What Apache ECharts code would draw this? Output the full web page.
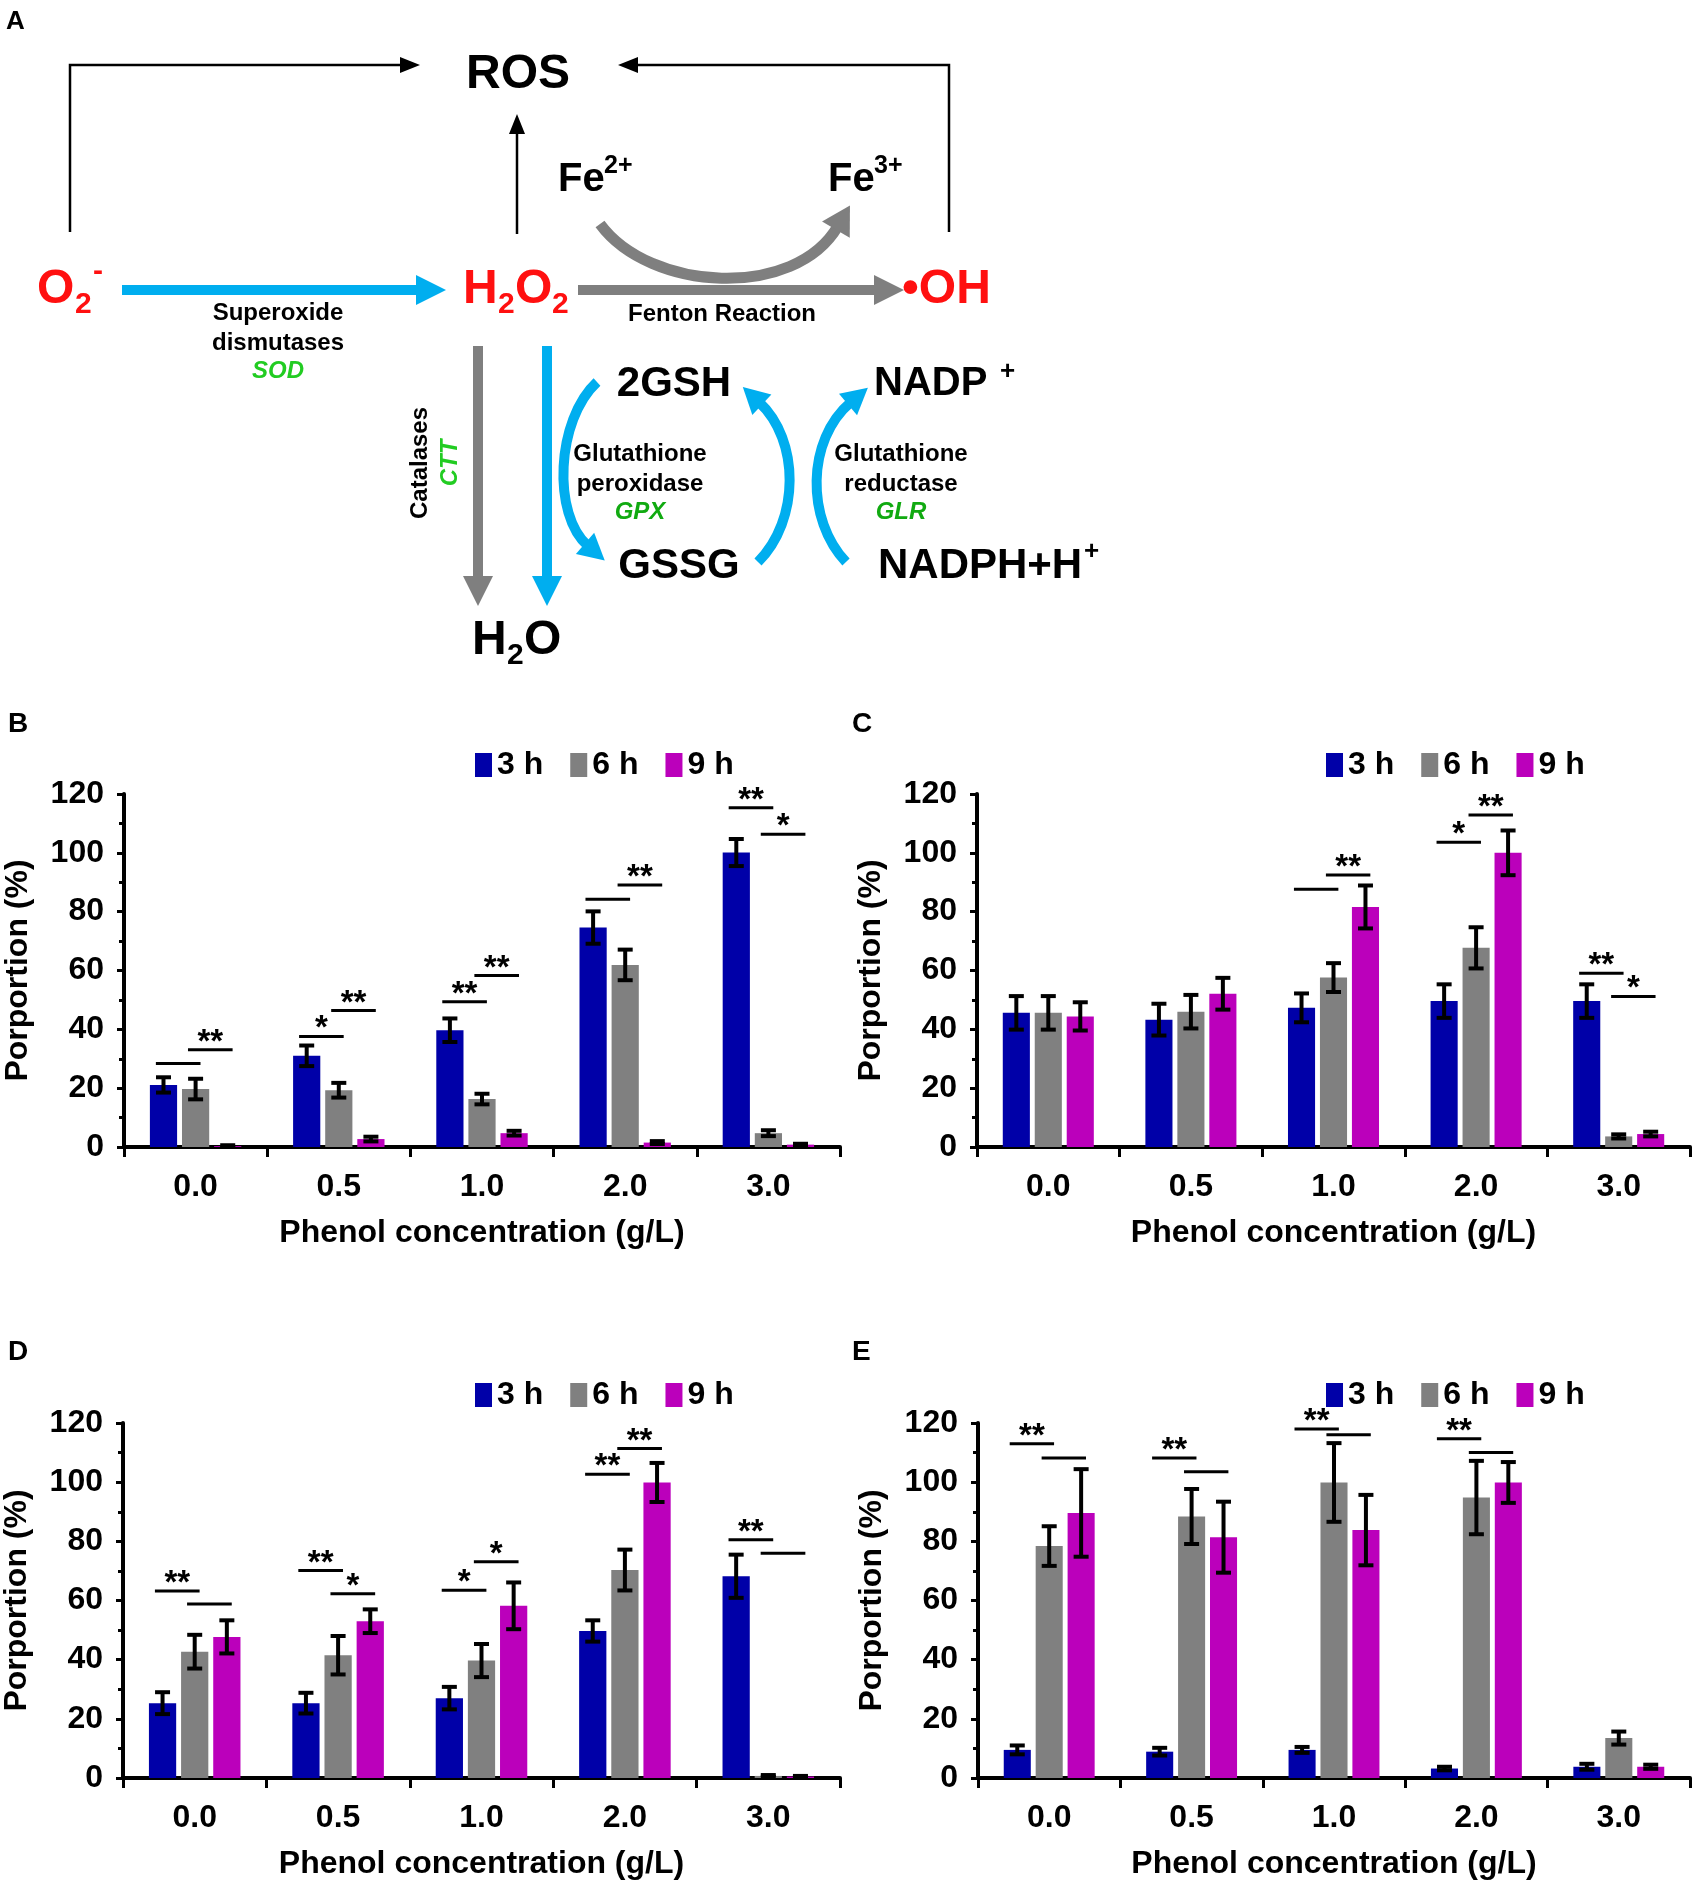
<!DOCTYPE html>
<html>
<head>
<meta charset="utf-8">
<script src="https://cdn.jsdelivr.net/npm/echarts@6/dist/echarts.min.js"></script>
<style>
html,body{margin:0;padding:0;background:#fff;}
#chart{width:1700px;height:1883px;}
</style>
</head>
<body>
<div id="chart"></div>
<script>
// ---------- DATA ----------
const categories = ['0.0', '0.5', '1.0', '2.0', '3.0'];
const seriesNames = ['3 h', '6 h', '9 h'];
const yMin = 0, yMax = 120, yInterval = 20;

// Panel B
const b3h = [21.1, 31.0, 39.7, 74.6, 100.1];
const b6h = [19.7, 19.3, 16.3, 61.9, 4.7];
const b9h = [0.3, 2.7, 4.7, 1.5, 0.8];
const b3hErr = [2.6, 3.5, 4.0, 5.5, 4.6];
const b6hErr = [3.5, 2.5, 1.8, 5.2, 1.0];
const b9hErr = [0.3, 0.8, 0.8, 0.5, 0.3];
// [category, fromSeries, toSeries, y, stars]
const bSig = [[0,0,1,28.4,''],[0,1,2,33.1,'**'],[1,0,1,37.6,'*'],[1,1,2,46.4,'**'],[2,0,1,49.4,'**'],[2,1,2,58.3,'**'],[3,0,1,84.2,''],[3,1,2,89.1,'**'],[4,0,1,115.3,'**'],[4,1,2,106.3,'*']];

// Panel C
const c3h = [45.6, 43.3, 47.3, 49.6, 49.6];
const c6h = [45.6, 46.0, 57.6, 67.7, 3.6];
const c9h = [44.4, 52.1, 81.6, 100.0, 4.4];
const c3hErr = [5.7, 5.4, 4.9, 5.7, 5.7];
const c6hErr = [5.7, 5.7, 4.9, 7.0, 0.7];
const c9hErr = [4.8, 5.4, 7.3, 7.6, 0.8];
const cSig = [[2,0,1,87.6,''],[2,1,2,92.5,'**'],[3,0,1,103.6,'*'],[3,1,2,112.9,'**'],[4,0,1,59.1,'**'],[4,1,2,51.2,'*']];

// Panel D
const d3h = [25.3, 25.3, 27.0, 49.7, 68.2];
const d6h = [42.7, 41.5, 39.7, 70.3, 0.7];
const d9h = [47.7, 53.0, 58.2, 99.9, 0.5];
const d3hErr = [3.7, 3.5, 3.8, 3.6, 7.3];
const d6hErr = [5.7, 6.5, 5.6, 6.9, 0.3];
const d9hErr = [5.6, 4.0, 7.9, 6.6, 0.2];
const dSig = [[0,0,1,63.2,'**'],[0,1,2,58.8,''],[1,0,1,70.1,'**'],[1,1,2,62.3,'*'],[2,0,1,63.5,'*'],[2,1,2,73.1,'*'],[3,0,1,102.7,'**'],[3,1,2,111.4,'**'],[4,0,1,80.5,'**'],[4,1,2,76.0,'']];

// Panel E
const e3h = [9.5, 8.9, 9.5, 3.2, 3.8];
const e6h = [78.4, 88.4, 99.9, 94.8, 13.5];
const e9h = [89.6, 81.4, 83.8, 99.9, 3.8];
const e3hErr = [1.5, 1.3, 1.0, 0.6, 1.0];
const e6hErr = [6.7, 9.3, 13.3, 12.4, 2.2];
const e9hErr = [14.8, 12.0, 11.9, 6.9, 0.7];
const eSig = [[0,0,1,113.0,'**'],[0,1,2,108.2,''],[1,0,1,108.2,'**'],[1,1,2,103.5,''],[2,0,1,118.0,'**'],[2,1,2,116.0,''],[3,0,1,114.7,'**'],[3,1,2,110.0,'']];

// ---------- STYLE ----------
const FONT = '"Liberation Sans", Arial, Helvetica, sans-serif';
const COLORS = ['#0000A8', '#808080', '#BB00BB'];
const BW = 0.19, GAP = 0.18;
const RED = '#FF1010', BLUE = '#00AEEF', GRAY = '#7F7F7F', GREEN = '#22CC22';

const panels = [
  {key:'B', vals:[b3h,b6h,b9h], errs:[b3hErr,b6hErr,b9hErr], sig:bSig, grid:{left:124, top:794, width:716, height:353}, legend:{left:475, top:749}, label:[8,724]},
  {key:'C', vals:[c3h,c6h,c9h], errs:[c3hErr,c6hErr,c9hErr], sig:cSig, grid:{left:977, top:794, width:713, height:353}, legend:{left:1326, top:749}, label:[852,724]},
  {key:'D', vals:[d3h,d6h,d9h], errs:[d3hErr,d6hErr,d9hErr], sig:dSig, grid:{left:122, top:1423, width:718, height:355}, legend:{left:475, top:1379}, label:[8,1352]},
  {key:'E', vals:[e3h,e6h,e9h], errs:[e3hErr,e6hErr,e9hErr], sig:eSig, grid:{left:978, top:1423, width:712, height:355}, legend:{left:1326, top:1379}, label:[852,1352]}
];

function barCenter(api, cat, s, v) {
  const band = api.size([1, 0])[0];
  const bw = band * BW, gap = bw * GAP;
  const c = api.coord([cat, v]);
  return {x: c[0] + (s - 1) * (bw + gap), bw: bw};
}

const grid = [], xAxis = [], yAxis = [], legend = [], series = [], graphic = [];

panels.forEach(function (p, gi) {
  grid.push(p.grid);
  xAxis.push({
    type: 'category', gridIndex: gi, data: categories,
    axisLine: {lineStyle: {color: '#000', width: 4}},
    axisTick: {show: true, length: 10, lineStyle: {color: '#000', width: 3}},
    axisLabel: {fontFamily: FONT, fontSize: 32, fontWeight: 'bold', color: '#000', margin: 24},
    name: 'Phenol concentration (g/L)', nameLocation: 'middle', nameGap: 70,
    nameTextStyle: {fontFamily: FONT, fontSize: 32, fontWeight: 'bold', color: '#000'}
  });
  yAxis.push({
    type: 'value', gridIndex: gi, min: yMin, max: yMax, interval: yInterval,
    axisLine: {show: true, lineStyle: {color: '#000', width: 4}},
    axisTick: {show: true, length: 7, lineStyle: {color: '#000', width: 3}},
    minorTick: {show: true, splitNumber: 2, length: 5, lineStyle: {color: '#000', width: 3}},
    splitLine: {show: false},
    axisLabel: {fontFamily: FONT, fontSize: 32, fontWeight: 'bold', color: '#000', margin: 20},
    name: 'Porportion (%)', nameLocation: 'middle', nameGap: 90,
    nameTextStyle: {fontFamily: FONT, fontSize: 32, fontWeight: 'bold', color: '#000'}
  });
  legend.push({
    left: p.legend.left, top: p.legend.top, data: seriesNames, icon: 'rect',
    itemWidth: 17, itemHeight: 24, itemGap: 27, padding: 0, selectedMode: false,
    textStyle: {fontFamily: FONT, fontSize: 32, fontWeight: 'bold', color: '#000'}
  });
  p.vals.forEach(function (arr, si) {
    series.push({
      type: 'bar', name: seriesNames[si], xAxisIndex: gi, yAxisIndex: gi,
      data: arr, barWidth: (BW * 100) + '%', barGap: (GAP * 100) + '%',
      itemStyle: {color: COLORS[si]}, silent: true
    });
  });
  // error bars
  const errData = [];
  p.vals.forEach(function (arr, si) {
    arr.forEach(function (v, ci) { errData.push([ci, si, v, p.errs[si][ci]]); });
  });
  series.push({
    type: 'custom', xAxisIndex: gi, yAxisIndex: gi, z: 5, silent: true,
    data: errData, encode: {x: 0, y: 2},
    renderItem: function (params, api) {
      const cat = api.value(0), s = api.value(1), v = api.value(2), e = api.value(3);
      const bc = barCenter(api, cat, s, v);
      const top = api.coord([cat, v + e])[1];
      const bot = api.coord([cat, Math.max(0, v - e)])[1];
      const hw = 7.5;
      const st = {stroke: '#000', lineWidth: 4};
      return {type: 'group', children: [
        {type: 'line', shape: {x1: bc.x, y1: top, x2: bc.x, y2: bot}, style: st},
        {type: 'line', shape: {x1: bc.x - hw, y1: top, x2: bc.x + hw, y2: top}, style: st},
        {type: 'line', shape: {x1: bc.x - hw, y1: bot, x2: bc.x + hw, y2: bot}, style: st}
      ]};
    }
  });
  // significance brackets
  const sig = p.sig;
  series.push({
    type: 'custom', xAxisIndex: gi, yAxisIndex: gi, z: 6, silent: true,
    data: sig.map(function (d) { return [d[0], d[3]]; }), encode: {x: 0, y: 1},
    renderItem: function (params, api) {
      const d = sig[params.dataIndex];
      const a = barCenter(api, d[0], d[1], d[3]);
      const b = barCenter(api, d[0], d[2], d[3]);
      const y = api.coord([d[0], d[3]])[1];
      const x1 = a.x - 0.28 * a.bw, x2 = b.x + 0.18 * b.bw;
      const children = [{type: 'line', shape: {x1: x1, y1: y, x2: x2, y2: y}, style: {stroke: '#000', lineWidth: 3}}];
      if (d[4]) {
        children.push({type: 'text', x: (x1 + x2) / 2, y: y - 7,
          style: {text: d[4], fontFamily: FONT, fontSize: 33, fontWeight: 'bold', fill: '#000', align: 'center', verticalAlign: 'middle'}});
      }
      return {type: 'group', children: children};
    }
  });
  graphic.push({type: 'text', x: p.label[0], y: p.label[1],
    style: {text: p.key, fontFamily: FONT, fontSize: 28, fontWeight: 'bold', fill: '#000', align: 'left', verticalAlign: 'middle'}});
});

// ---------- PANEL A (schematic) ----------
function txt(t, x, y, size, color, opts) {
  opts = opts || {};
  return {type: 'text', x: x, y: y, rotation: opts.rot || 0,
    style: {text: t, fontFamily: FONT, fontSize: size, fontWeight: 'bold', fontStyle: opts.italic ? 'italic' : 'normal',
      fill: color, align: opts.align || 'left', verticalAlign: 'middle'}};
}
function head(tx, ty, dx, dy, len, hw, color) {
  const n = Math.sqrt(dx * dx + dy * dy); dx /= n; dy /= n;
  const bx = tx - len * dx, by = ty - len * dy;
  return {type: 'polygon', shape: {points: [[tx, ty], [bx - hw * dy, by + hw * dx], [bx + hw * dy, by - hw * dx]]}, style: {fill: color}};
}
function seg(x1, y1, x2, y2, color, w) {
  return {type: 'line', shape: {x1: x1, y1: y1, x2: x2, y2: y2}, style: {stroke: color, lineWidth: w}};
}
function curve(x1, y1, c1x, c1y, c2x, c2y, x2, y2, color, w, hl, hw) {
  const dx = x2 - c2x, dy = y2 - c2y, n = Math.sqrt(dx * dx + dy * dy);
  return [
    {type: 'bezierCurve', shape: {x1: x1, y1: y1, cpx1: c1x, cpy1: c1y, cpx2: c2x, cpy2: c2y, x2: x2, y2: y2}, style: {stroke: color, lineWidth: w, fill: null}},
    head(x2 + hl * 0.85 * dx / n, y2 + hl * 0.85 * dy / n, dx, dy, hl, hw, color)
  ];
}

const A = [];
A.push(txt('A', 6, 22, 26, '#000'));
// black connectors to ROS
A.push({type: 'polyline', shape: {points: [[70, 232], [70, 65], [402, 65]]}, style: {stroke: '#000', lineWidth: 2.5, fill: null}});
A.push(head(420, 65, 1, 0, 20, 8, '#000'));
A.push({type: 'polyline', shape: {points: [[949, 232], [949, 65], [636, 65]]}, style: {stroke: '#000', lineWidth: 2.5, fill: null}});
A.push(head(618, 65, -1, 0, 20, 8, '#000'));
A.push(seg(517, 234, 517, 132, '#000', 2.5));
A.push(head(517, 114, 0, -1, 20, 8, '#000'));
A.push(txt('ROS', 518, 75, 48, '#000', {align: 'center'}));
// O2-
A.push(txt('O', 37, 290, 48, RED));
A.push(txt('2', 75, 305, 30, RED));
A.push(txt('-', 93, 272, 30, RED));
// H2O2
A.push(txt('H', 463, 290, 48, RED));
A.push(txt('2', 498, 305, 30, RED));
A.push(txt('O', 515, 290, 48, RED));
A.push(txt('2', 552, 305, 30, RED));
// •OH
A.push(txt('\u2022OH', 902, 290, 48, RED));
// blue arrow O2- -> H2O2
A.push(seg(122, 290, 420, 290, BLUE, 10));
A.push(head(446, 290, 1, 0, 30, 15, BLUE));
A.push(txt('Superoxide', 278, 313, 24, '#000', {align: 'center'}));
A.push(txt('dismutases', 278, 343, 24, '#000', {align: 'center'}));
A.push(txt('SOD', 278, 371, 24, GREEN, {align: 'center', italic: true}));
// gray arrow H2O2 -> OH
A.push(seg(578, 290, 878, 290, GRAY, 10));
A.push(head(904, 290, 1, 0, 30, 15, GRAY));
A.push(txt('Fenton Reaction', 722, 314, 24, '#000', {align: 'center'}));
// Fe
A.push(txt('Fe', 558, 180, 40, '#000'));
A.push(txt('2+', 604, 166, 25, '#000'));
A.push(txt('Fe', 828, 180, 40, '#000'));
A.push(txt('3+', 874, 166, 25, '#000'));
curve(600, 224, 650, 292, 795, 300, 838, 226, GRAY, 11, 28, 16).forEach(function (e) { A.push(e); });
// vertical arrows to H2O
A.push(seg(478, 346, 478, 580, GRAY, 10));
A.push(head(478, 606, 0, 1, 30, 15, GRAY));
A.push(seg(547, 346, 547, 580, BLUE, 10));
A.push(head(547, 606, 0, 1, 30, 15, BLUE));
A.push(txt('Catalases', 420, 463, 24, '#000', {align: 'center', rot: Math.PI / 2}));
A.push(txt('CTT', 450, 463, 24, GREEN, {align: 'center', rot: Math.PI / 2, italic: true}));
// H2O
A.push(txt('H', 472, 641, 48, '#000'));
A.push(txt('2', 507, 656, 30, '#000'));
A.push(txt('O', 524, 641, 48, '#000'));
// glutathione cycle
A.push(txt('2GSH', 674, 384, 42, '#000', {align: 'center'}));
A.push(txt('GSSG', 679, 566, 42, '#000', {align: 'center'}));
A.push(txt('NADP', 874, 384, 40, '#000'));
A.push(txt('+', 1000, 372, 26, '#000'));
A.push(txt('NADPH+H', 878, 566, 42, '#000'));
A.push(txt('+', 1084, 552, 26, '#000'));
A.push(txt('Glutathione', 640, 454, 24, '#000', {align: 'center'}));
A.push(txt('peroxidase', 640, 484, 24, '#000', {align: 'center'}));
A.push(txt('GPX', 640, 512, 24, '#11AA11', {align: 'center', italic: true}));
A.push(txt('Glutathione', 901, 454, 24, '#000', {align: 'center'}));
A.push(txt('reductase', 901, 484, 24, '#000', {align: 'center'}));
A.push(txt('GLR', 901, 512, 24, '#11AA11', {align: 'center', italic: true}));
curve(597, 382, 556, 420, 552, 515, 588, 546, BLUE, 10, 26, 14).forEach(function (e) { A.push(e); });
curve(758, 562, 800, 520, 800, 440, 759, 402, BLUE, 10, 26, 14).forEach(function (e) { A.push(e); });
curve(846, 562, 806, 520, 806, 440, 851, 402, BLUE, 10, 26, 14).forEach(function (e) { A.push(e); });

A.forEach(function (e) { graphic.push(e); });

const chart = echarts.init(document.getElementById('chart'), null, {renderer: 'canvas'});
chart.setOption({
  backgroundColor: '#fff',
  animation: false,
  grid: grid, xAxis: xAxis, yAxis: yAxis, legend: legend, series: series,
  graphic: graphic
});
</script>
</body>
</html>
